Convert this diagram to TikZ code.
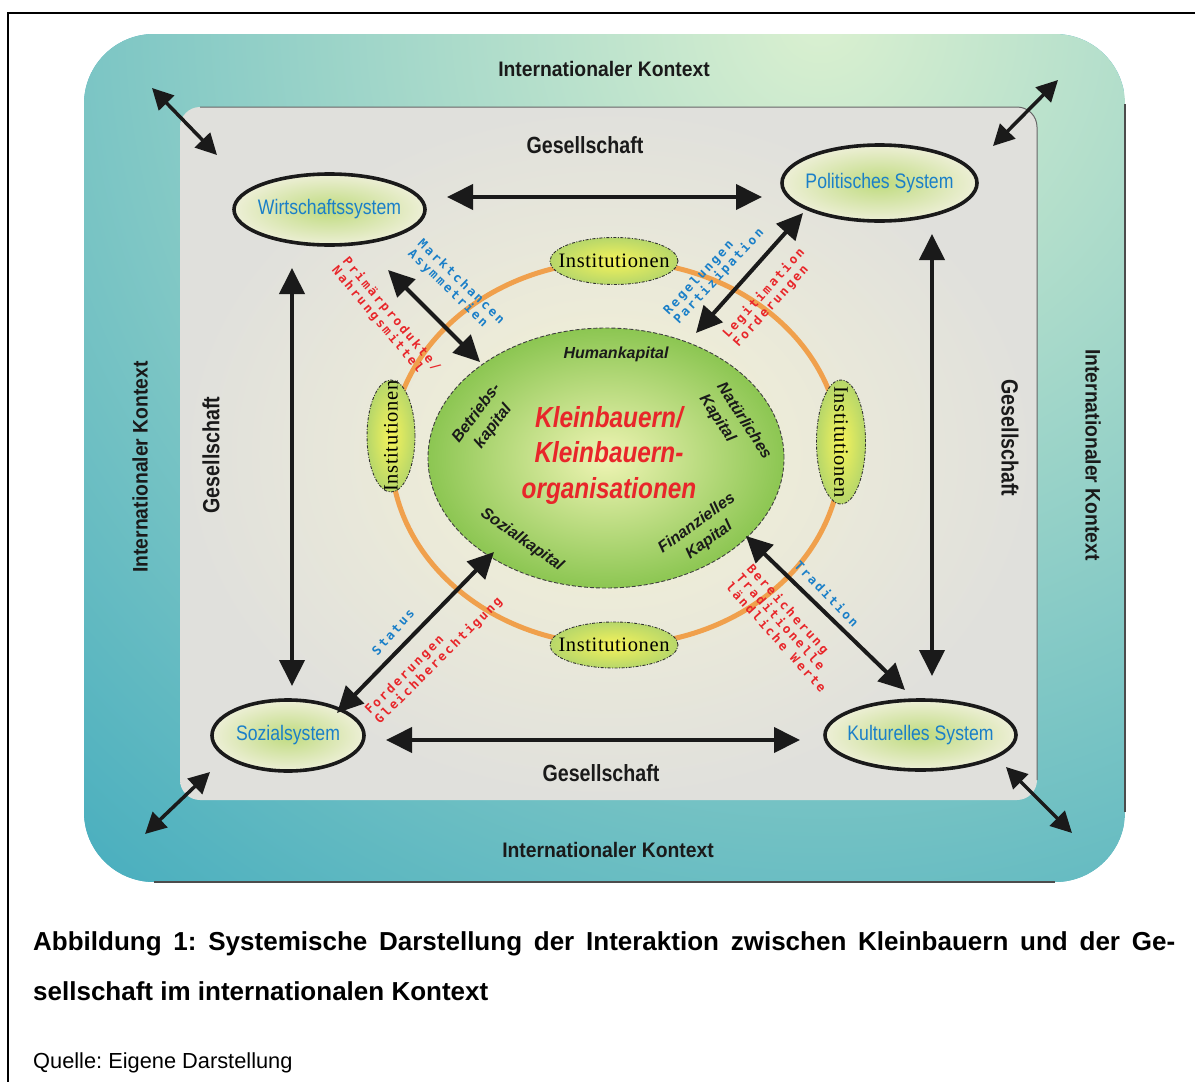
\documentclass[tikz,border=0pt]{standalone}
\usepackage{fontspec}
\setmainfont{Liberation Sans}
\newfontfamily\narrowf{Liberation Sans}[FakeStretch=0.84]
\newfontfamily\semif{Liberation Sans}[FakeStretch=0.92]
\newfontfamily\seriff{Liberation Serif}[LetterSpace=3]
\newfontfamily\monof{DejaVu Sans Mono}[LetterSpace=18]
\usetikzlibrary{shapes.geometric,arrows.meta}
\frenchspacing
\definecolor{tealdark}{HTML}{46ADBE}
\definecolor{teallight}{HTML}{DAF0D0}
\definecolor{grayout}{HTML}{E0E0DC}
\definecolor{grayin}{HTML}{F5F3D6}
\definecolor{sysblue}{HTML}{1A7FC8}
\definecolor{lblred}{HTML}{E8262A}
\definecolor{ringorange}{HTML}{F0A04C}
\definecolor{greenout}{HTML}{8CC652}
\definecolor{greenin}{HTML}{EFF4B4}
\definecolor{sysgreen}{HTML}{BFDB7E}
\definecolor{syspale}{HTML}{EDEFD6}
\definecolor{instyellow}{HTML}{F6F35A}
\definecolor{instgreen}{HTML}{B7D76A}
\definecolor{inkblack}{HTML}{1A1A1A}
\tikzset{
  sysell/.style={ellipse, draw=inkblack, line width=3.6pt, inner color=sysgreen, outer color=syspale,
    inner sep=0pt, text=sysblue, font=\narrowf\fontsize{21}{24}\selectfont},
  instell/.style={ellipse, draw=black!80, line width=0.9pt, dash pattern=on 3pt off 1.5pt on 1pt off 1.5pt,
    inner color=instyellow, outer color=instgreen, inner sep=0pt, font=\seriff\fontsize{20.5}{23}\selectfont},
  dblarrow/.style={{Triangle[length=26pt,width=25pt]}-{Triangle[length=26pt,width=25pt]}, line width=4pt, draw=inkblack},
  cornerarrow/.style={{Triangle[length=21pt,width=21pt]}-{Triangle[length=21pt,width=21pt]}, line width=3.5pt, draw=inkblack},
  ges/.style={font=\narrowf\bfseries\fontsize{23.4}{26}\selectfont, text=inkblack},
  intk/.style={font=\semif\bfseries\fontsize{21}{24}\selectfont, text=inkblack},
  kap/.style={font=\bfseries\itshape\fontsize{16}{21}\selectfont, align=center, text=inkblack},
  monolbl/.style={font=\monof\bfseries\fontsize{12.5}{14}\selectfont, align=left},
  bluelbl/.style={monolbl, text=sysblue},
  redlbl/.style={monolbl, text=lblred},
  captxt/.style={font=\bfseries\fontsize{26}{30}\selectfont, inner sep=0pt, anchor=base west}
}
\begin{document}
\begin{tikzpicture}[x=1pt,y=-1pt]
\fill[white] (0,0) rectangle (1195,1082);
\useasboundingbox (0,0) rectangle (1195,1082);
\draw[line width=2.2pt] (8,1082) -- (8,13) -- (1195,13);

% outer teal frame
\begin{scope}
  \clip[rounded corners=70pt] (84,34) rectangle (1125,882);
  \fill[tealdark] (84,34) rectangle (1125,882);
  \shade[inner color=teallight, outer color=tealdark] (820,20) circle (1150pt);
\end{scope}
\draw[black!70, line width=1.2pt] (1125,104) -- (1125,812);
\draw[black!70, line width=1.2pt] (154,882) -- (1055,882);

% inner gray box
\shade[rounded corners=20pt, inner color=grayin, outer color=grayout] (180,107) rectangle (1037,800);
\draw[black!60, line width=1pt, rounded corners=20pt] (200,107) -- (1037,107) -- (1037,780);

% labels of frames
\node[intk] (ikTop) at (604,69) {Internationaler Kontext};
\node[intk] (ikBot) at (608,850) {Internationaler Kontext};
\node[intk, rotate=90] (ikLeft) at (140,467) {Internationaler Kontext};
\node[intk, rotate=-90] (ikRight) at (1093,455) {Internationaler Kontext};
\node[ges] (gTop) at (585,145) {Gesellschaft};
\node[ges] (gBot) at (601,773) {Gesellschaft};
\node[ges, rotate=90] (gLeft) at (211,455) {Gesellschaft};
\node[ges, rotate=-90] (gRight) at (1010,438) {Gesellschaft};

% orange ring
\draw[ringorange, line width=5pt] (616,453) ellipse [x radius=225pt, y radius=192pt];

% institutions
\node[instell, minimum width=128pt, minimum height=47pt] (instTop) at (614,261) {\makebox[0pt]{Institutionen}};
\node[instell, minimum width=128pt, minimum height=46pt] (instBot) at (614,645) {\makebox[0pt]{Institutionen}};
\node[instell, minimum width=48pt, minimum height=112pt] (instLeft) at (391,436) {};
\node[font=\seriff\fontsize{20.5}{23}\selectfont, rotate=90] (instLeftT) at (instLeft) {Institutionen};
\node[instell, minimum width=49pt, minimum height=124pt] (instRight) at (841,442) {};
\node[font=\seriff\fontsize{20.5}{23}\selectfont, rotate=-90] (instRightT) at (instRight) {Institutionen};

% central ellipse
\node[ellipse, draw=black!75, line width=0.9pt, dash pattern=on 4pt off 2pt, inner color=greenin, outer color=greenout,
  minimum width=356pt, minimum height=260pt, inner sep=0pt] (klein) at (606,458) {};
\node[font=\narrowf\bfseries\itshape\fontsize{29}{35.5}\selectfont, text=lblred, align=center] (kleinT) at (609,455)
  {Kleinbauern/\\Kleinbauern-\\organisationen};
\node[kap] (human) at (616,354) {Humankapital};
\node[kap, rotate=53] (betrieb) at (485,420) {Betriebs-\\kapital};
\node[kap, rotate=-57, align=left] (natur) at (735,427) {Natürliches\\Kapital};
\node[kap, rotate=-35] (sozk) at (522,540) {Sozialkapital};
\node[kap, rotate=36] (finanz) at (703,532) {Finanzielles\\Kapital};

% systems
\node[sysell, minimum width=191pt, minimum height=71pt] (wirt) at (329.5,209.5) {\makebox[0pt]{Wirtschaftssystem}};
\node[sysell, minimum width=195pt, minimum height=76pt] (pol) at (879.5,183) {\makebox[0pt]{Politisches System}};
\node[sysell, minimum width=152pt, minimum height=71pt] (soz) at (288,735.5) {\makebox[0pt]{Sozialsystem}};
\node[sysell, minimum width=191pt, minimum height=70pt] (kult) at (920.5,735) {\makebox[0pt]{Kulturelles System}};

% arrow end points
\coordinate (hTopA) at (447,197);  \coordinate (hTopB) at (762,197);
\coordinate (hBotA) at (386,740);  \coordinate (hBotB) at (800,740);
\coordinate (vLeftA) at (292,268); \coordinate (vLeftB) at (292,686);
\coordinate (vRightA) at (932,234); \coordinate (vRightB) at (932,676);
\coordinate (cTLa) at (152,88);   \coordinate (cTLb) at (217,155);
\coordinate (cTRa) at (1058,80);  \coordinate (cTRb) at (993,146);
\coordinate (cBLa) at (145,834);  \coordinate (cBLb) at (210,772);
\coordinate (cBRa) at (1006,767); \coordinate (cBRb) at (1072,833);
\coordinate (dTLa) at (388,270);  \coordinate (dTLb) at (480,362);
\coordinate (dTRa) at (803,213);  \coordinate (dTRb) at (696,333);
\coordinate (dBLa) at (337,713);  \coordinate (dBLb) at (494,552);
\coordinate (dBRa) at (746,536);  \coordinate (dBRb) at (905,690);

\draw[dblarrow] (hTopA) -- (hTopB);
\draw[dblarrow] (hBotA) -- (hBotB);
\draw[dblarrow] (vLeftA) -- (vLeftB);
\draw[dblarrow] (vRightA) -- (vRightB);
\draw[cornerarrow] (cTLa) -- (cTLb);
\draw[cornerarrow] (cTRa) -- (cTRb);
\draw[cornerarrow] (cBLa) -- (cBLb);
\draw[cornerarrow] (cBRa) -- (cBRb);
\draw[dblarrow] (dTLa) -- (dTLb);
\draw[dblarrow] (dTRa) -- (dTRb);
\draw[dblarrow] (dBLa) -- (dBLb);
\draw[dblarrow] (dBRa) -- (dBRb);

% relation labels
\node[bluelbl, rotate=-44] (markt) at (456,287) {Marktchancen\\Asymmetrien};
\node[redlbl, rotate=-50] (prim) at (386,319) {Primärprodukte/\\Nahrungsmittel};
\node[bluelbl, rotate=47] (regel) at (714,272) {Regelungen\\Partizipation};
\node[redlbl, rotate=48] (legit) at (769,298) {Legitimation\\Forderungen};
\node[bluelbl, rotate=48] (status) at (393,632) {Status};
\node[redlbl, rotate=45] (ford) at (434,656) {Forderungen\\Gleichberechtigung};
\node[bluelbl, rotate=-46] (trad) at (827,594) {Tradition};
\node[redlbl, rotate=-48] (berei) at (787,628) {Bereicherung\\Traditionelle\\ländliche Werte};

% caption
\node[captxt] (cap1) at (33,950) {\makebox[1142pt][s]{Abbildung 1: Systemische Darstellung der Interaktion zwischen Kleinbauern und der Ge-}};
\node[captxt] (cap2) at (33,1000) {sellschaft im internationalen Kontext};
\node[font=\fontsize{21.8}{24}\selectfont, inner sep=0pt, anchor=base west] (src) at (33,1068) {Quelle: Eigene Darstellung};
\end{tikzpicture}
\end{document}
